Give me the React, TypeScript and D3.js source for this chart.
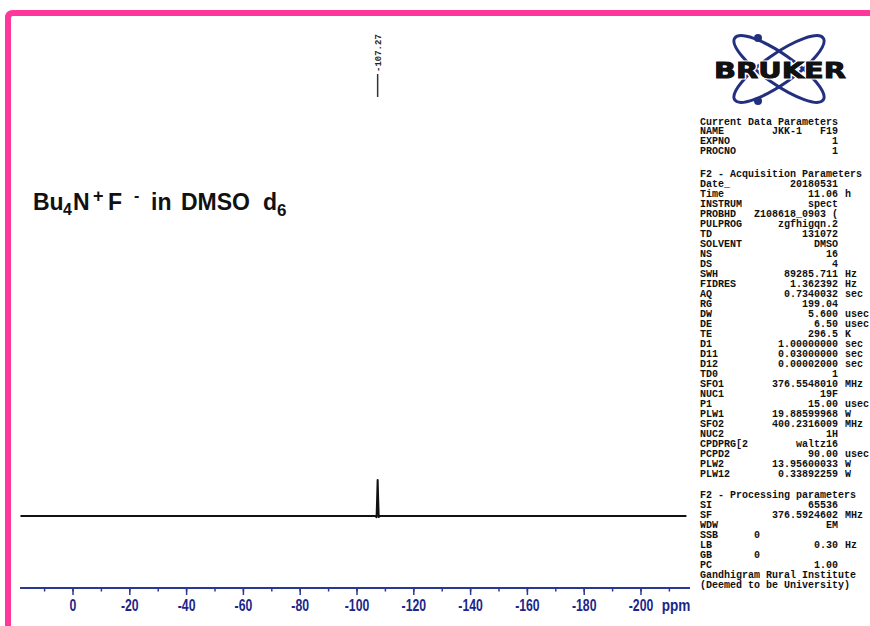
import React from "react";
import * as d3 from "d3";

// ---- data ----
const tickValues = [0, -20, -40, -60, -80, -100, -120, -140, -160, -180, -200];
const minorTickValues = [10, 0, -10, -20, -30, -40, -50, -60, -70, -80, -90, -100, -110, -120, -130, -140, -150, -160, -170, -180, -190, -200, -210];
const specPpm = [18.5, -100, -106.4, -106.9, -107.08, -107.27, -107.46, -107.65, -108.1, -120, -216];
const specInt = [0, 0, 0, -0.03, 0.45, 1, 0.45, -0.03, 0, 0, 0];
const peakLabels = [-107.27];

const currentParams: [string, string, string][] = [
  ["NAME", "JKK-1   F19", ""],
  ["EXPNO", "1", ""],
  ["PROCNO", "1", ""],
];
const acqParams: [string, string, string][] = [
  ["Date_", "20180531", ""],
  ["Time", "11.06", "h"],
  ["INSTRUM", "spect", ""],
  ["PROBHD", "Z108618_0903 (", ""],
  ["PULPROG", "zgfhigqn.2", ""],
  ["TD", "131072", ""],
  ["SOLVENT", "DMSO", ""],
  ["NS", "16", ""],
  ["DS", "4", ""],
  ["SWH", "89285.711", "Hz"],
  ["FIDRES", "1.362392", "Hz"],
  ["AQ", "0.7340032", "sec"],
  ["RG", "199.04", ""],
  ["DW", "5.600", "usec"],
  ["DE", "6.50", "usec"],
  ["TE", "296.5", "K"],
  ["D1", "1.00000000", "sec"],
  ["D11", "0.03000000", "sec"],
  ["D12", "0.00002000", "sec"],
  ["TD0", "1", ""],
  ["SFO1", "376.5548010", "MHz"],
  ["NUC1", "19F", ""],
  ["P1", "15.00", "usec"],
  ["PLW1", "19.88599968", "W"],
  ["SFO2", "400.2316009", "MHz"],
  ["NUC2", "1H", ""],
  ["CPDPRG[2", "waltz16", ""],
  ["PCPD2", "90.00", "usec"],
  ["PLW2", "13.95600033", "W"],
  ["PLW12", "0.33892259", "W"],
];
const procParams: [string, string, string][] = [
  ["SI", "65536", ""],
  ["SF", "376.5924602", "MHz"],
  ["WDW", "EM", ""],
  ["SSB", "0", "left"],
  ["LB", "0.30", "Hz"],
  ["GB", "0", "left"],
  ["PC", "1.00", ""],
];
const footerLines = ["Gandhigram Rural Institute", "(Deemed to be University)"];

const W = 870;
const H = 626;
const PINK = "#ff369b";
const AXIS_BLUE = "#2a3794";
const LABEL_BLUE = "#1b2689";
const NAVY = "#23307f";
const MONO = "'Liberation Mono', 'DejaVu Sans Mono', monospace";
const SANS = "'Liberation Sans', Arial, sans-serif";

export default function App() {
  const x = d3.scaleLinear().domain([0, -200]).range([73, 641]);
  const y = d3.scaleLinear().domain([0, 1]).range([516, 480]);
  const pts = specPpm.map((p, i) => [x(p), y(specInt[i])] as [number, number]);
  const line = d3.line()(pts) || "";
  const axisY = 588;

  const labelX = 700;
  const valX = 838;
  const unitX = 845;

  const renderBlock = (title: string, rows: [string, string, string][], y0: number, dy: number) => (
    <g>
      <text x={labelX} y={y0} dy="0.35em">{title}</text>
      {rows.map((r, i) => {
        const yy = y0 + (i + 1) * dy;
        return (
          <g key={i}>
            <text x={labelX} y={yy} dy="0.35em">{r[0]}</text>
            {r[2] === "left" ? (
              <text x={757} y={yy} dy="0.35em" textAnchor="middle">{r[1]}</text>
            ) : (
              <text x={valX} y={yy} dy="0.35em" textAnchor="end" style={{ whiteSpace: "pre" }}>{r[1]}</text>
            )}
            {r[2] && r[2] !== "left" ? <text x={unitX} y={yy} dy="0.35em">{r[2]}</text> : null}
          </g>
        );
      })}
    </g>
  );

  const tb = 210; // title baseline
  return (
    <svg width={W} height={H} style={{ position: "absolute", left: 0, top: 0, background: "#fff" }}>
      <rect x={0} y={0} width={W} height={H} fill="#fff" />
      {/* pink frame */}
      <path d={`M 8 ${H + 5} L 8 18 Q 8 13 13 13 L ${W + 5} 13`} fill="none" stroke={PINK} strokeWidth={6} />

      {/* title */}
      <text fontFamily={SANS} fontWeight="bold" fill="#111" fontSize={23} y={tb}>
        <tspan x={33} y={tb}>Bu</tspan>
        <tspan x={63} y={tb + 5} fontSize={16}>4</tspan>
        <tspan x={73} y={tb}>N</tspan>
        <tspan x={93} y={tb - 8} fontSize={18}>+</tspan>
        <tspan x={108} y={tb}>F</tspan>
        <tspan x={134} y={tb - 9} fontSize={16}>-</tspan>
        <tspan x={151} y={tb}>in</tspan>
        <tspan x={181} y={tb}>DMSO</tspan>
        <tspan x={263} y={tb}>d</tspan>
        <tspan x={277} y={tb + 6} fontSize={17}>6</tspan>
      </text>

      {/* spectrum */}
      <path d={line} fill="none" stroke="#111" strokeWidth={2} strokeLinejoin="round" />

      {/* peak labels */}
      {peakLabels.map((p, i) => (
        <g key={i}>
          <line x1={x(p)} x2={x(p)} y1={74} y2={97} stroke="#333" strokeWidth={1.5} />
          <text
            transform={`translate(${x(p) + 3},${72}) rotate(-90)`}
            fontFamily={MONO}
            fontWeight="bold"
            fontSize={9}
            fill="#222"
          >
            {p.toFixed(2)}
          </text>
        </g>
      ))}

      {/* axis */}
      <line x1={20} x2={690} y1={axisY} y2={axisY} stroke={AXIS_BLUE} strokeWidth={2} />
      {minorTickValues.map((t, i) => (
        <line key={"m" + i} x1={x(t)} x2={x(t)} y1={axisY} y2={axisY + 3.5} stroke={AXIS_BLUE} strokeWidth={1.5} />
      ))}
      {tickValues.map((t, i) => (
        <g key={"t" + i}>
          <line x1={x(t)} x2={x(t)} y1={axisY} y2={axisY + 7} stroke={AXIS_BLUE} strokeWidth={1.5} />
          <text
            transform={`translate(${x(t)},${611}) scale(0.72,1)`}
            textAnchor="middle"
            fontFamily={SANS}
            fontWeight="bold"
            fontSize={17}
            fill={LABEL_BLUE}
          >
            {t}
          </text>
        </g>
      ))}
      <text
        transform={`translate(${676},${611}) scale(0.8,1)`}
        textAnchor="middle"
        fontFamily={SANS}
        fontWeight="bold"
        fontSize={17}
        fill={LABEL_BLUE}
      >
        ppm
      </text>

      {/* Bruker logo */}
      <g>
        <ellipse cx={779} cy={69} rx={54} ry={15} transform="rotate(35 779 69)" fill="none" stroke={NAVY} strokeWidth={3} />
        <ellipse cx={779} cy={69} rx={54} ry={15} transform="rotate(-35 779 69)" fill="none" stroke={NAVY} strokeWidth={3} />
        <circle cx={758} cy={38} r={4} fill={NAVY} />
        <circle cx={758} cy={101} r={4} fill={NAVY} />
        <text
          x={714}
          y={78}
          textLength={132}
          lengthAdjust="spacingAndGlyphs"
          fontFamily="'DejaVu Sans', sans-serif"
          fontWeight="bold"
          fontSize={21}
          fill="#111"
          stroke="#fff"
          strokeWidth={3}
          paintOrder="stroke"
        >
          BRUKER
        </text>
        <text
          x={714}
          y={78}
          textLength={132}
          lengthAdjust="spacingAndGlyphs"
          fontFamily="'DejaVu Sans', sans-serif"
          fontWeight="bold"
          fontSize={21}
          fill="#111"
          stroke="#111"
          strokeWidth={0.8}
        >
          BRUKER
        </text>
      </g>

      {/* parameters */}
      <g fontFamily={MONO} fontWeight="bold" fontSize={10} fill="#111">
        {renderBlock("Current Data Parameters", currentParams, 121, 9.7)}
        {renderBlock("F2 - Acquisition Parameters", acqParams, 173, 10)}
        {renderBlock("F2 - Processing parameters", procParams, 494, 10.1)}
        {footerLines.map((l, i) => (
          <text key={i} x={labelX} y={494 + (procParams.length + 1 + i) * 10.1} dy="0.35em">{l}</text>
        ))}
      </g>
    </svg>
  );
}
